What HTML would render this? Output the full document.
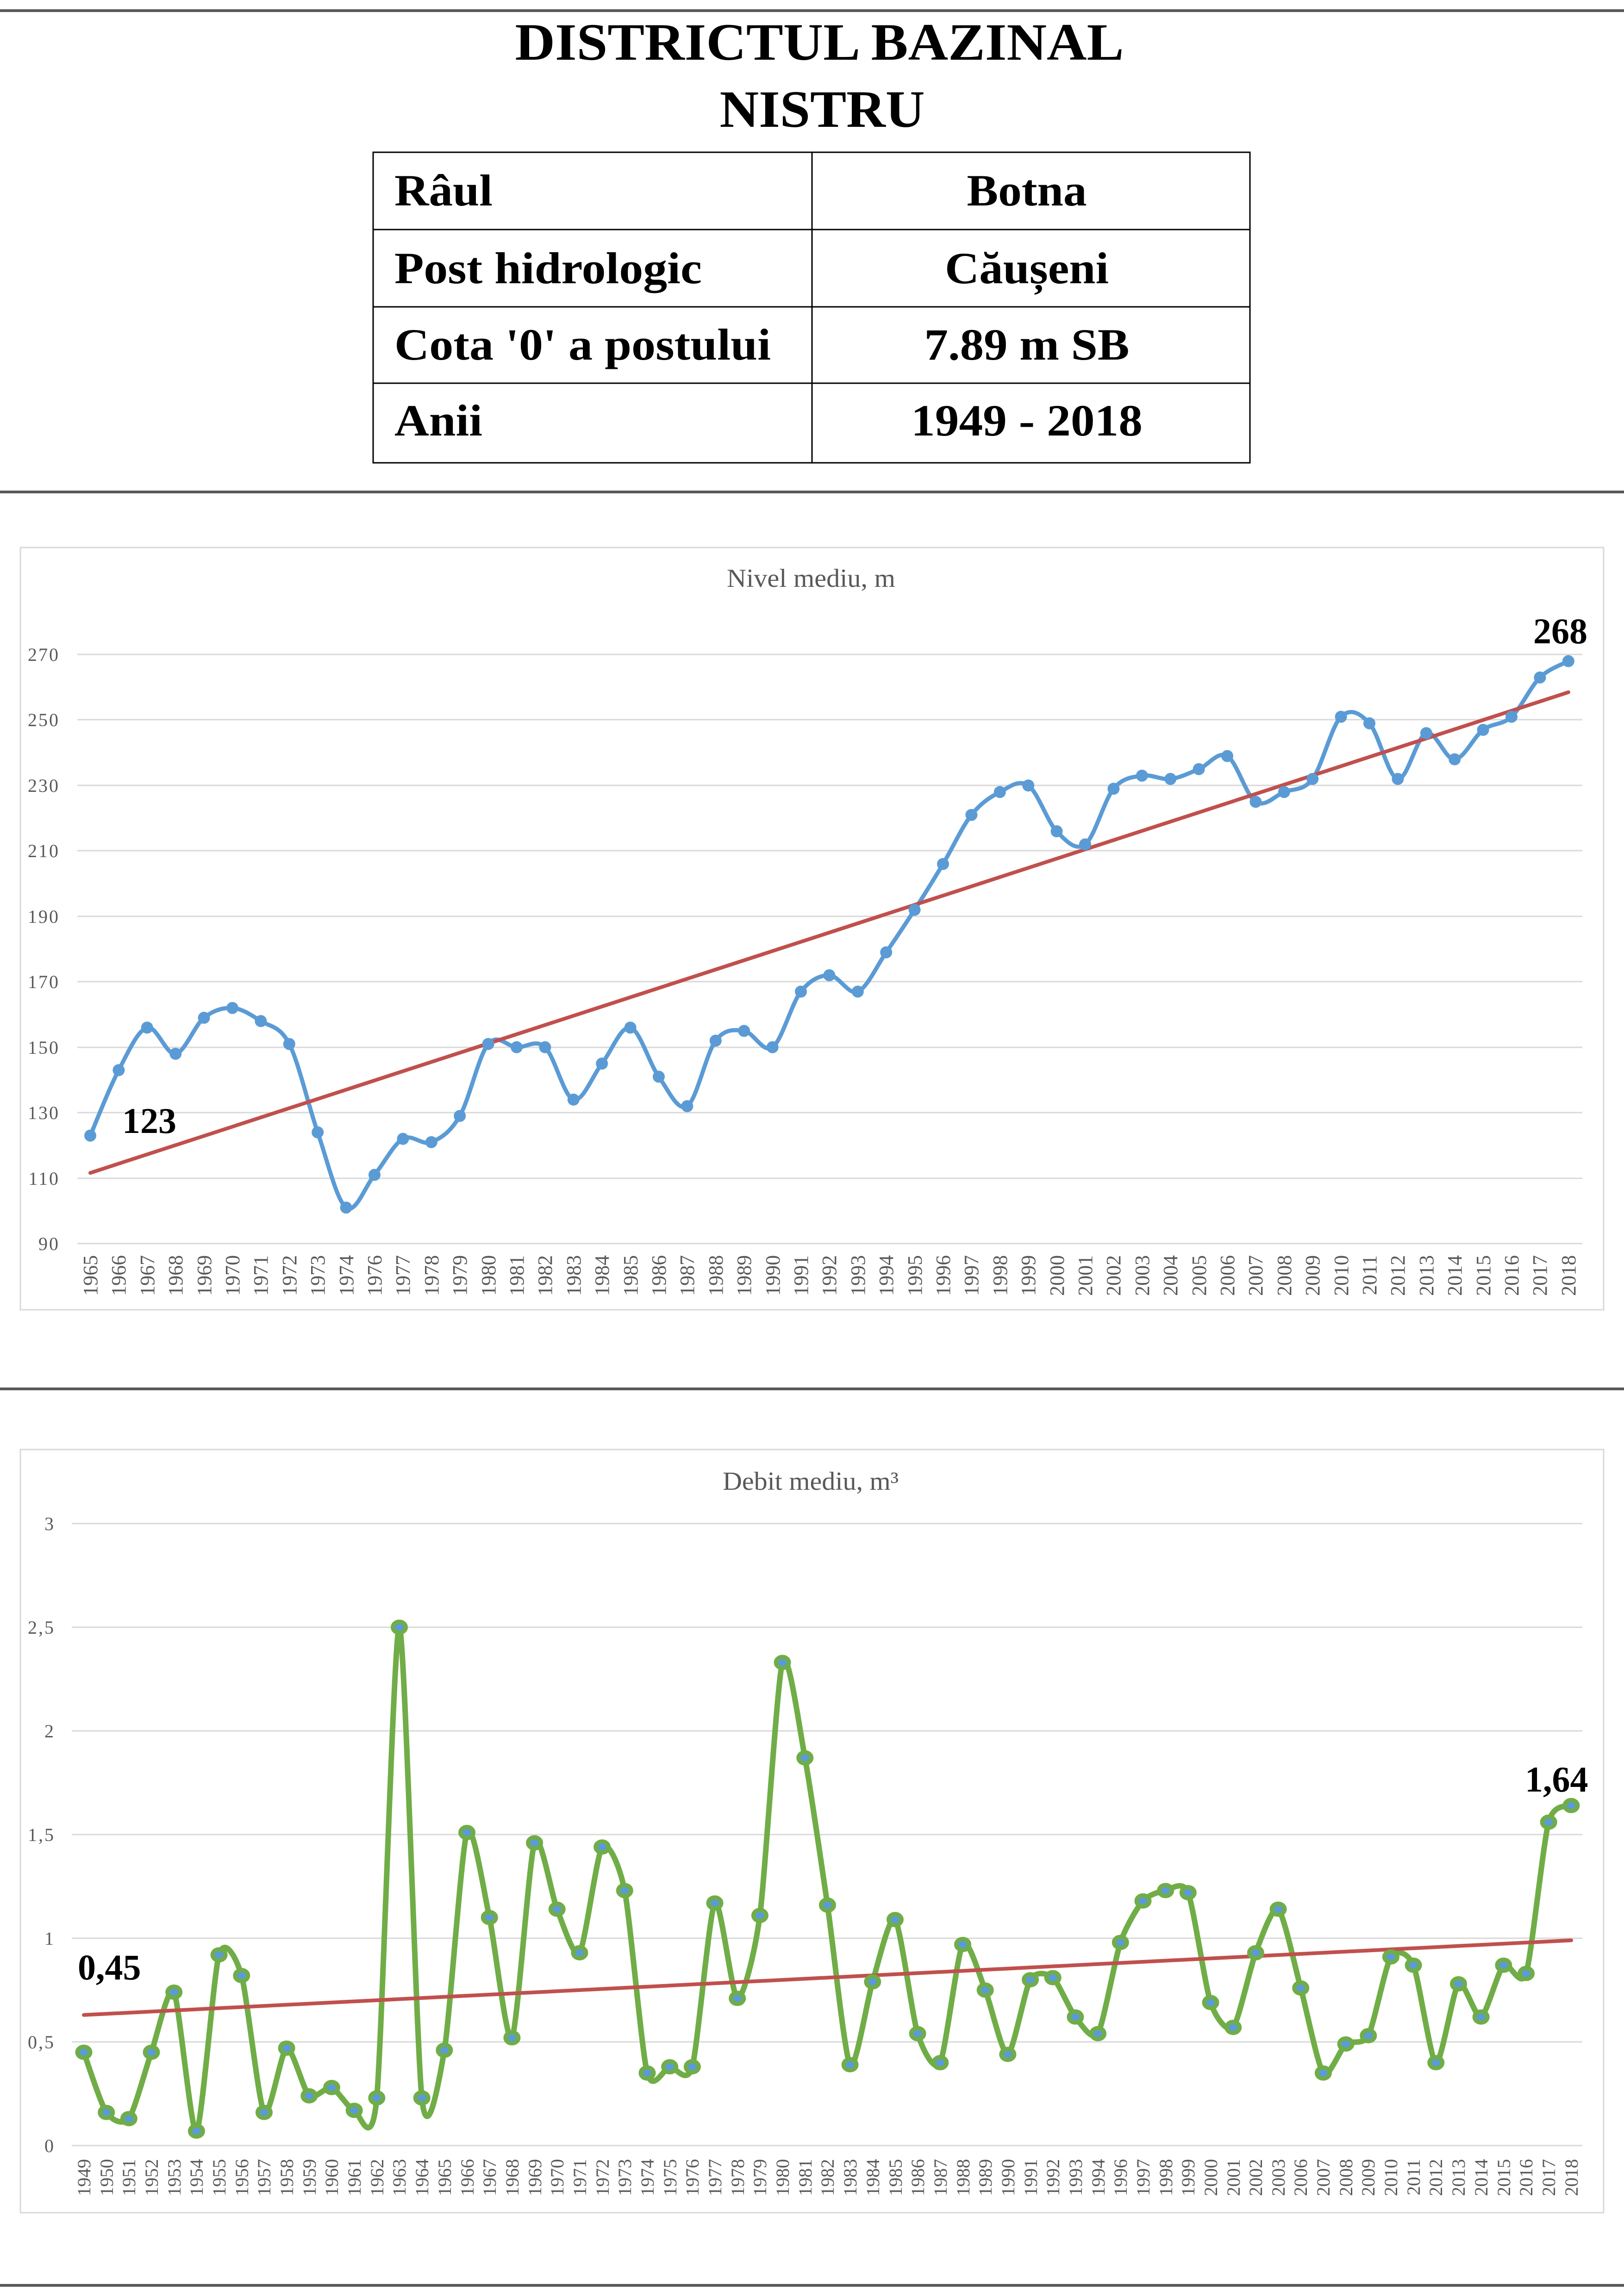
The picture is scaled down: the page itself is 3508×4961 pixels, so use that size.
<!DOCTYPE html>
<html><head><meta charset="utf-8"><style>
html,body{margin:0;padding:0;background:#fff}
svg{display:block}
text{font-family:"Liberation Serif",serif}
</style></head><body>
<svg id="s" width="3508" height="4961" viewBox="0 0 3508 4961" xmlns="http://www.w3.org/2000/svg">
<rect width="3508" height="4961" fill="#fff"/>
<rect x="0" y="20" width="3508" height="6" fill="#595959"/>
<rect x="0" y="1060" width="3508" height="6" fill="#595959"/>
<rect x="0" y="2998" width="3508" height="6" fill="#595959"/>
<rect x="0" y="4935" width="3508" height="6" fill="#595959"/>
<text x="1770" y="129" font-size="113" font-weight="bold" text-anchor="middle" textLength="1315" lengthAdjust="spacingAndGlyphs">DISTRICTUL BAZINAL</text>
<text x="1776" y="274" font-size="113" font-weight="bold" text-anchor="middle" textLength="443" lengthAdjust="spacingAndGlyphs">NISTRU</text>
<g stroke="#000" stroke-width="3" fill="none">
<rect x="806" y="329" width="1894" height="671"/>
<line x1="1754" y1="329" x2="1754" y2="1000"/>
<line x1="806" y1="496" x2="2700" y2="496"/>
<line x1="806" y1="663" x2="2700" y2="663"/>
<line x1="806" y1="828" x2="2700" y2="828"/>
</g>
<g font-size="96" font-weight="bold" lengthAdjust="spacingAndGlyphs">
<text x="852" y="444" textLength="212" lengthAdjust="spacingAndGlyphs">Râul</text>
<text x="852" y="612" textLength="664" lengthAdjust="spacingAndGlyphs">Post hidrologic</text>
<text x="852" y="777" textLength="813" lengthAdjust="spacingAndGlyphs">Cota '0' a postului</text>
<text x="852" y="941" textLength="190" lengthAdjust="spacingAndGlyphs">Anii</text>
<text x="2218" y="444" text-anchor="middle" textLength="259" lengthAdjust="spacingAndGlyphs">Botna</text>
<text x="2218" y="612" text-anchor="middle" textLength="354" lengthAdjust="spacingAndGlyphs">Căușeni</text>
<text x="2218" y="777" text-anchor="middle" textLength="443" lengthAdjust="spacingAndGlyphs">7.89 m SB</text>
<text x="2218" y="941" text-anchor="middle" textLength="500" lengthAdjust="spacingAndGlyphs">1949 - 2018</text>
</g>

<rect x="44" y="1183" width="3420" height="1647" fill="none" stroke="#d9d9d9" stroke-width="3"/>
<text x="1752" y="1268" font-size="56" fill="#595959" text-anchor="middle" textLength="364" lengthAdjust="spacingAndGlyphs">Nivel mediu, m</text>
<g stroke="#d9d9d9" stroke-width="3">
<line x1="167" x2="3418" y1="1414" y2="1414"/><line x1="167" x2="3418" y1="1555" y2="1555"/>
<line x1="167" x2="3418" y1="1697" y2="1697"/><line x1="167" x2="3418" y1="1838" y2="1838"/>
<line x1="167" x2="3418" y1="1980" y2="1980"/><line x1="167" x2="3418" y1="2121" y2="2121"/>
<line x1="167" x2="3418" y1="2263" y2="2263"/><line x1="167" x2="3418" y1="2404" y2="2404"/>
<line x1="167" x2="3418" y1="2546" y2="2546"/><line x1="167" x2="3418" y1="2687" y2="2687"/>
</g>
<g font-size="40" fill="#595959" text-anchor="end" letter-spacing="3">
<text x="129" y="1428">270</text><text x="129" y="1569">250</text><text x="129" y="1711">230</text>
<text x="129" y="1852">210</text><text x="129" y="1994">190</text><text x="129" y="2135">170</text>
<text x="129" y="2277">150</text><text x="129" y="2418">130</text><text x="129" y="2560">110</text>
<text x="129" y="2701">90</text>
</g>
<g transform="translate(0,2712) rotate(-90)" font-size="44" fill="#595959" text-anchor="end">
<text x="0" y="210">1965</text><text x="0" y="271">1966</text><text x="0" y="333">1967</text><text x="0" y="394">1968</text><text x="0" y="456">1969</text><text x="0" y="517">1970</text><text x="0" y="578">1971</text><text x="0" y="640">1972</text><text x="0" y="701">1973</text><text x="0" y="763">1974</text><text x="0" y="824">1976</text><text x="0" y="885">1977</text><text x="0" y="947">1978</text><text x="0" y="1008">1979</text><text x="0" y="1070">1980</text><text x="0" y="1131">1981</text><text x="0" y="1192">1982</text><text x="0" y="1254">1983</text><text x="0" y="1315">1984</text><text x="0" y="1377">1985</text><text x="0" y="1438">1986</text><text x="0" y="1499">1987</text><text x="0" y="1561">1988</text><text x="0" y="1622">1989</text><text x="0" y="1684">1990</text><text x="0" y="1745">1991</text><text x="0" y="1806">1992</text><text x="0" y="1868">1993</text><text x="0" y="1929">1994</text><text x="0" y="1991">1995</text><text x="0" y="2052">1996</text><text x="0" y="2113">1997</text><text x="0" y="2175">1998</text><text x="0" y="2236">1999</text><text x="0" y="2298">2000</text><text x="0" y="2359">2001</text><text x="0" y="2420">2002</text><text x="0" y="2482">2003</text><text x="0" y="2543">2004</text><text x="0" y="2605">2005</text><text x="0" y="2666">2006</text><text x="0" y="2727">2007</text><text x="0" y="2789">2008</text><text x="0" y="2850">2009</text><text x="0" y="2912">2010</text><text x="0" y="2973">2011</text><text x="0" y="3034">2012</text><text x="0" y="3096">2013</text><text x="0" y="3157">2014</text><text x="0" y="3219">2015</text><text x="0" y="3280">2016</text><text x="0" y="3341">2017</text><text x="0" y="3403">2018</text>
</g>
<g id="c1"></g>
<text x="264" y="2448" font-size="78" font-weight="bold">123</text>
<text x="3312" y="1390" font-size="78" font-weight="bold">268</text>

<rect x="44" y="3132" width="3420" height="1649" fill="none" stroke="#d9d9d9" stroke-width="3"/>
<text x="1751" y="3219" font-size="56" fill="#595959" text-anchor="middle" textLength="380" lengthAdjust="spacingAndGlyphs">Debit mediu, m³</text>
<g stroke="#d9d9d9" stroke-width="3">
<line x1="155" x2="3418" y1="3292" y2="3292"/><line x1="155" x2="3418" y1="3516" y2="3516"/>
<line x1="155" x2="3418" y1="3740" y2="3740"/><line x1="155" x2="3418" y1="3964" y2="3964"/>
<line x1="155" x2="3418" y1="4188" y2="4188"/><line x1="155" x2="3418" y1="4412" y2="4412"/>
<line x1="155" x2="3418" y1="4636" y2="4636"/>
</g>
<g font-size="40" fill="#595959" text-anchor="end" letter-spacing="3">
<text x="119" y="3306">3</text><text x="119" y="3530">2,5</text><text x="119" y="3754">2</text>
<text x="119" y="3978">1,5</text><text x="119" y="4202">1</text><text x="119" y="4426">0,5</text>
<text x="119" y="4650">0</text>
</g>
<g transform="translate(0,4665) rotate(-90)" font-size="40" fill="#595959" text-anchor="end">
<text x="0" y="195">1949</text><text x="0" y="244">1950</text><text x="0" y="292">1951</text><text x="0" y="341">1952</text><text x="0" y="390">1953</text><text x="0" y="438">1954</text><text x="0" y="487">1955</text><text x="0" y="536">1956</text><text x="0" y="584">1957</text><text x="0" y="633">1958</text><text x="0" y="682">1959</text><text x="0" y="730">1960</text><text x="0" y="779">1961</text><text x="0" y="828">1962</text><text x="0" y="876">1963</text><text x="0" y="925">1964</text><text x="0" y="974">1965</text><text x="0" y="1023">1966</text><text x="0" y="1071">1967</text><text x="0" y="1120">1968</text><text x="0" y="1169">1969</text><text x="0" y="1217">1970</text><text x="0" y="1266">1971</text><text x="0" y="1315">1972</text><text x="0" y="1363">1973</text><text x="0" y="1412">1974</text><text x="0" y="1461">1975</text><text x="0" y="1509">1976</text><text x="0" y="1558">1977</text><text x="0" y="1607">1978</text><text x="0" y="1655">1979</text><text x="0" y="1704">1980</text><text x="0" y="1753">1981</text><text x="0" y="1801">1982</text><text x="0" y="1850">1983</text><text x="0" y="1899">1984</text><text x="0" y="1948">1985</text><text x="0" y="1996">1986</text><text x="0" y="2045">1987</text><text x="0" y="2094">1988</text><text x="0" y="2142">1989</text><text x="0" y="2191">1990</text><text x="0" y="2240">1991</text><text x="0" y="2288">1992</text><text x="0" y="2337">1993</text><text x="0" y="2386">1994</text><text x="0" y="2434">1996</text><text x="0" y="2483">1997</text><text x="0" y="2532">1998</text><text x="0" y="2580">1999</text><text x="0" y="2629">2000</text><text x="0" y="2678">2001</text><text x="0" y="2726">2002</text><text x="0" y="2775">2003</text><text x="0" y="2823">2006</text><text x="0" y="2872">2007</text><text x="0" y="2921">2008</text><text x="0" y="2969">2009</text><text x="0" y="3018">2010</text><text x="0" y="3067">2011</text><text x="0" y="3115">2012</text><text x="0" y="3164">2013</text><text x="0" y="3213">2014</text><text x="0" y="3262">2015</text><text x="0" y="3310">2016</text><text x="0" y="3359">2017</text><text x="0" y="3408">2018</text>
</g>
<g id="c2"></g>
<text x="168" y="4277" font-size="78" font-weight="bold">0,45</text>
<text x="3294" y="3871" font-size="78" font-weight="bold">1,64</text>
</svg>
<script>
(function(){
var NS="http://www.w3.org/2000/svg";
function el(p,n,a){var e=document.createElementNS(NS,n);for(var k in a)e.setAttribute(k,a[k]);p.appendChild(e);return e;}
function smooth(pts,t){var d="M"+pts[0][0]+","+pts[0][1];for(var i=0;i<pts.length-1;i++){var p0=pts[i-1]||pts[i],p1=pts[i],p2=pts[i+1],p3=pts[i+2]||p2;
d+=" C"+(p1[0]+(p2[0]-p0[0])*t)+","+(p1[1]+(p2[1]-p0[1])*t)+" "+(p2[0]-(p3[0]-p1[0])*t)+","+(p2[1]-(p3[1]-p1[1])*t)+" "+p2[0]+","+p2[1];}return d;}
var d1=[123,143,156,148,159,162,158,151,124,101,111,122,121,129,151,150,150,134,145,156,141,132,152,155,150,167,172,167,179,192,206,221,228,230,216,212,229,233,232,235,239,225,228,232,251,249,232,246,238,247,251,263,268];
var g1=document.getElementById("c1");
var p1=d1.map(function(v,i){return [195+61.4*i,2687-(v-90)*7.07];});
el(g1,"path",{d:smooth(p1,1/6),fill:"none",stroke:"#5B9BD5","stroke-width":9,"stroke-linejoin":"round"});
el(g1,"line",{x1:195,y1:2687-(111.6-90)*7.07,x2:3388,y2:2687-(258.5-90)*7.07,stroke:"#C0504D","stroke-width":8,"stroke-linecap":"round"});
p1.forEach(function(p){el(g1,"circle",{cx:p[0],cy:p[1],r:13,fill:"#5B9BD5"});});
var d2=[.45,.16,.13,.45,.74,.07,.92,.82,.16,.47,.24,.28,.17,.23,2.5,.23,.46,1.51,1.10,.52,1.46,1.14,.93,1.44,1.23,.35,.38,.38,1.17,.71,1.11,2.33,1.87,1.16,.39,.79,1.09,.54,.40,.97,.75,.44,.80,.81,.62,.54,.98,1.18,1.23,1.22,.69,.57,.93,1.14,.76,.35,.49,.53,.91,.87,.40,.78,.62,.87,.83,1.56,1.64];
var g2=document.getElementById("c2");
var p2=d2.map(function(v,i){return [181+48.68*i,4636-v*448];});
el(g2,"path",{d:smooth(p2,0.12),fill:"none",stroke:"#70AD47","stroke-width":12,"stroke-linejoin":"round"});
el(g2,"line",{x1:181,y1:4636-.63*448,x2:3394,y2:4636-.99*448,stroke:"#C0504D","stroke-width":8,"stroke-linecap":"round"});
p2.forEach(function(p){el(g2,"ellipse",{cx:p[0],cy:p[1],rx:14,ry:12,fill:"#5B9BD5",stroke:"#70AD47","stroke-width":9});});
})();
</script>
</body></html>
